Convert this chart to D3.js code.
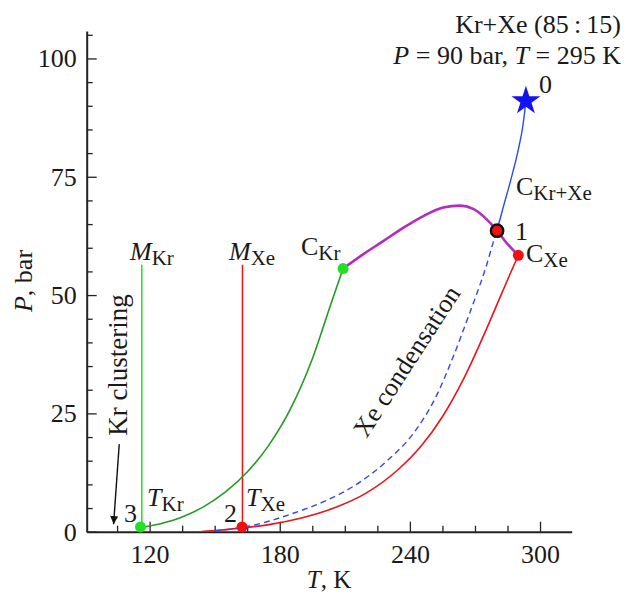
<!DOCTYPE html>
<html>
<head>
<meta charset="utf-8">
<script src="https://cdn.jsdelivr.net/npm/d3@7"></script>
<style>
  body { margin: 0; background: #fff; }
</style>
</head>
<body>
<svg id="chart" width="626" height="592" font-family="'Liberation Serif', 'DejaVu Serif', 'Times New Roman', serif"></svg>
<script>
    var serif = "'Liberation Serif', 'DejaVu Serif', 'Times New Roman', serif";

    // values: [T (K), P (bar)]
    var krVapour = [[115.8, 0.9], [125, 1.7], [135, 3.1], [145, 5.3], [155, 8.4], [165, 12.6],
        [175, 18.3], [185, 26.0], [195, 36.5], [203, 47.3], [209.2, 55.6]];
    var xeSublimation = [[144, 0.05], [152, 0.3], [162.6, 0.8]];
    var xeVapour = [[162.6, 0.8], [175, 1.5], [190, 2.9], [205, 5.0], [220, 8.2], [235, 13.3],
        [245, 18.0], [255, 24.3], [265, 32.5], [275, 42.5], [282, 50.0], [287, 55.3], [290, 58.4]];
    var xeDew = [[150, 0.2], [160, 0.7], [170, 1.6], [185, 3.7], [200, 6.3], [215, 9.9], [230, 15.2],
        [242, 21.0], [252, 28.5], [260, 37], [267, 45.5], [271, 50.5], [275, 55.8], [278, 60.5], [280.2, 63.7]];
    var mixPath = [[280.2, 63.7], [283, 68.5], [286.5, 74.3], [290, 80.8], [292, 85.5], [293.5, 91]];
    var criticalLine = [[209.2, 55.6], [218.4, 58.6], [227.7, 61.4], [236.9, 64.2], [246.2, 66.7], [255.4, 68.5],
        [263.1, 68.9], [269.2, 68.2], [275.4, 66.0], [280.2, 63.6], [284.6, 61.0], [290, 58.4]];
    var meltKr = [[116.4, 0], [116.4, 56.4]];
    var meltXe = [[162.8, 0], [162.8, 56.4]];
    var startPoint = [293.5, 91];
    var point1 = [280.2, 63.6];
    var greenDots = [[115.8, 1.0], [209.2, 55.6]];
    var redDots = [[162.6, 1.0], [290, 58.4]];

    var xTicks = d3.range(105, 315, 15);
    var xLabels = [120, 180, 240, 300];
    var yTicks = d3.range(0, 106, 5);
    var yLabels = [0, 25, 50, 75, 100];

    var svg = d3.select("#chart");
    var x = d3.scaleLinear().domain([91, 314.6]).range([86.7, 571.7]);
    var y = d3.scaleLinear().domain([0, 105.8]).range([531.7, 31]);

    var line = d3.line()
        .x(function(d) { return x(d[0]); })
        .y(function(d) { return y(d[1]); })
        .curve(d3.curveMonotoneX);

    // axes, ticks pointing inward
    var xAxis = svg.append("g").attr("transform", "translate(0," + y(0) + ")")
        .call(d3.axisBottom(x).tickValues(xTicks).tickSizeInner(-6).tickSizeOuter(0).tickPadding(13)
            .tickFormat(function(d) { return xLabels.indexOf(d) >= 0 ? d : ""; }));
    var yAxis = svg.append("g").attr("transform", "translate(" + x(91) + ",0)")
        .call(d3.axisLeft(y).tickValues(yTicks).tickSizeInner(-6).tickSizeOuter(0).tickPadding(10)
            .tickFormat(function(d) { return yLabels.indexOf(d) >= 0 ? d : ""; }));
    [xAxis, yAxis].forEach(function(g) {
        g.attr("font-family", serif);
        g.select(".domain").attr("stroke", "#222").attr("stroke-width", 2);
        g.selectAll(".tick line").attr("stroke", "#222").attr("stroke-width", 1.3);
        g.selectAll(".tick text").attr("font-size", 26).attr("fill", "#1a1a1a");
    });
    xAxis.selectAll(".tick").filter(function(d) { return xLabels.indexOf(d) >= 0; })
        .select("line").attr("y2", -10);
    yAxis.selectAll(".tick").filter(function(d) { return yLabels.indexOf(d) >= 0; })
        .select("line").attr("x2", 10);

    // curves
    svg.append("path").datum(meltKr).attr("d", line).attr("fill", "none").attr("stroke", "#22e022").attr("stroke-width", 1.5);
    svg.append("path").datum(meltXe).attr("d", line).attr("fill", "none").attr("stroke", "#ff1010").attr("stroke-width", 1.5);
    svg.append("path").datum(krVapour).attr("d", line).attr("fill", "none").attr("stroke", "#249b24").attr("stroke-width", 1.6);
    svg.append("path").datum(xeSublimation).attr("d", line).attr("fill", "none").attr("stroke", "#e8141c").attr("stroke-width", 1.6);
    svg.append("path").datum(xeVapour).attr("d", line).attr("fill", "none").attr("stroke", "#e8141c").attr("stroke-width", 1.6);
    svg.append("path").datum(xeDew).attr("d", line).attr("fill", "none").attr("stroke", "#3348e8")
        .attr("stroke-width", 1.4).attr("stroke-dasharray", "6,4");
    svg.append("path").datum(mixPath).attr("d", line).attr("fill", "none").attr("stroke", "#2a4cf0").attr("stroke-width", 1.4);
    svg.append("path").datum(criticalLine).attr("d", line).attr("fill", "none").attr("stroke", "#b22cc0").attr("stroke-width", 2.6);

    // points
    svg.selectAll(".gdot").data(greenDots).enter().append("circle")
        .attr("cx", function(d) { return x(d[0]); }).attr("cy", function(d) { return y(d[1]); })
        .attr("r", 5.5).attr("fill", "#22e022");
    svg.selectAll(".rdot").data(redDots).enter().append("circle")
        .attr("cx", function(d) { return x(d[0]); }).attr("cy", function(d) { return y(d[1]); })
        .attr("r", 5.5).attr("fill", "#f01010");
    svg.append("circle").attr("cx", x(point1[0])).attr("cy", y(point1[1]))
        .attr("r", 6.2).attr("fill", "#f01010").attr("stroke", "#111").attr("stroke-width", 2.4);
    svg.append("path").attr("d", d3.symbol().type(d3.symbolStar).size(260)())
        .attr("transform", "translate(" + x(startPoint[0]) + "," + y(startPoint[1]) + ")")
        .attr("fill", "#1414f0");

    // labels with subscripts
    function label(px, py, main, sub, italic, size) {
        size = size || 26;
        var t = svg.append("text").attr("x", px).attr("y", py).attr("font-size", size)
            .attr("font-family", serif).attr("fill", "#1a1a1a");
        t.append("tspan").text(main).attr("font-style", italic ? "italic" : null);
        if (sub) t.append("tspan").text(sub).attr("font-size", 21).attr("dy", 5);
        return t;
    }
    label(130, 260, "M", "Kr", true);
    label(229, 260, "M", "Xe", true);
    label(301, 255, "C", "Kr");
    label(516, 195, "C", "Kr+Xe");
    label(526, 262, "C", "Xe");
    label(147, 506, "T", "Kr", true);
    label(246, 506, "T", "Xe", true);
    label(515, 240, "1");
    label(539, 93, "0");
    label(224, 522, "2");
    label(124, 522, "3");

    svg.append("text").attr("x", 621).attr("y", 33).attr("text-anchor", "end").attr("font-size", 26)
        .attr("font-family", serif).attr("fill", "#1a1a1a")
        .text("Kr+Xe (85\u2009:\u200915)");
    var t2 = svg.append("text").attr("x", 621).attr("y", 64).attr("text-anchor", "end").attr("font-size", 26)
        .attr("font-family", serif).attr("fill", "#1a1a1a");
    t2.append("tspan").attr("font-style", "italic").text("P");
    t2.append("tspan").text(" = 90 bar, ");
    t2.append("tspan").attr("font-style", "italic").text("T");
    t2.append("tspan").text(" = 295 K");

    // axis titles
    var xt = svg.append("text").attr("x", 329).attr("y", 588).attr("text-anchor", "middle").attr("font-size", 25)
        .attr("font-family", serif).attr("fill", "#1a1a1a");
    xt.append("tspan").attr("font-style", "italic").text("T");
    xt.append("tspan").text(", K");
    var yt = svg.append("text").attr("transform", "translate(32,281) rotate(-90)").attr("text-anchor", "middle")
        .attr("font-size", 26).attr("font-family", serif).attr("fill", "#1a1a1a");
    yt.append("tspan").attr("font-style", "italic").text("P");
    yt.append("tspan").text(", bar");

    // annotations
    svg.append("text").attr("transform", "translate(127,365) rotate(-90)").attr("text-anchor", "middle")
        .attr("font-size", 27).attr("font-family", serif).attr("fill", "#1a1a1a").text("Kr clustering");
    svg.append("text").attr("transform", "translate(414,366) rotate(-57)").attr("text-anchor", "middle")
        .attr("font-size", 26).attr("font-family", serif).attr("fill", "#1a1a1a").text("Xe condensation");

    svg.append("defs").append("marker").attr("id", "arrow").attr("viewBox", "0 0 10 10")
        .attr("refX", 10).attr("refY", 5).attr("markerWidth", 10).attr("markerHeight", 8)
        .attr("markerUnits", "userSpaceOnUse").attr("orient", "auto")
        .append("path").attr("d", "M0,0 L10,5 L0,10 z").attr("fill", "#111");
    svg.append("line").attr("x1", x(106)).attr("y1", y(18.5)).attr("x2", x(103.4)).attr("y2", y(1.6))
        .attr("stroke", "#111").attr("stroke-width", 1.4).attr("marker-end", "url(#arrow)");
</script>
</body>
</html>
